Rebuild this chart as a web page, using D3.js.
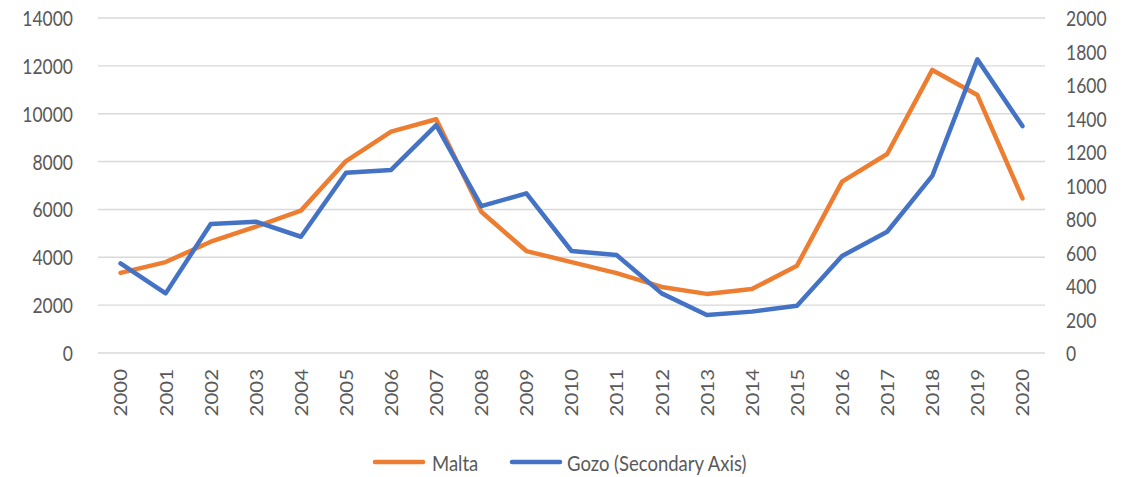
<!DOCTYPE html>
<html><head><meta charset="utf-8">
<script src="https://cdn.jsdelivr.net/npm/d3@7"></script>
<style>body{margin:0;background:#fff}svg{display:block}text{font-family:Lato,"Open Sans",sans-serif;fill:#595959}</style>
</head><body><svg id="c" width="1135" height="477"></svg>
<script>
const years = ["2000","2001","2002","2003","2004","2005","2006","2007","2008","2009","2010","2011","2012","2013","2014","2015","2016","2017","2018","2019","2020"];
const malta = [3350,3800,4650,5280,5950,8020,9250,9770,5900,4260,3800,3340,2760,2470,2670,3650,7160,8315,11830,10780,6460];
const gozo = [535,356,770,784,694,1076,1093,1361,877,953,609,585,356,227,247,282,579,724,1057,1753,1355];
const leftTicks = [0,2000,4000,6000,8000,10000,12000,14000];
const rightTicks = [0,200,400,600,800,1000,1200,1400,1600,1800,2000];
const seriesNames = ["Malta","Gozo (Secondary Axis)"];
const colors = ["#ED7D31","#4472C4"];

const svg = d3.select("#c");
const L = 98, R = 1045, T = 18, B = 353;
const SY = 1.17;
const x = d3.scaleBand().domain(years).range([L,R]);
const yL = d3.scaleLinear().domain([0,14000]).range([B,T]);
const yR = d3.scaleLinear().domain([0,2000]).range([B,T]);

// gridlines
svg.append("g").selectAll("line").data(leftTicks).join("line")
  .attr("x1",L).attr("x2",R).attr("y1",d=>yL(d)).attr("y2",d=>yL(d))
  .attr("stroke","#d9d9d9").attr("stroke-width",1.4);

// left labels
svg.append("g").selectAll("text").data(leftTicks).join("text")
  .attr("text-anchor","end").attr("dominant-baseline","central")
  .attr("transform",d=>`translate(73,${yL(d)}) scale(1,${SY})`)
  .style("font-size","17.5px").text(d=>d);
// right labels
svg.append("g").selectAll("text").data(rightTicks).join("text")
  .attr("text-anchor","start").attr("dominant-baseline","central")
  .attr("transform",d=>`translate(1066,${yR(d)}) scale(1,${SY})`)
  .style("font-size","17.5px").text(d=>d);
// x labels
svg.append("g").selectAll("text").data(years).join("text")
  .attr("text-anchor","end").attr("dominant-baseline","central")
  .attr("transform",d=>`translate(${x(d)+x.bandwidth()/2},369) scale(1,${SY}) rotate(-90)`)
  .style("font-size","17.5px").text(d=>d);

const cx = d => x(d)+x.bandwidth()/2;
const lineL = d3.line().x((d,i)=>cx(years[i])).y(d=>yL(d));
const lineR = d3.line().x((d,i)=>cx(years[i])).y(d=>yR(d));
svg.append("path").attr("d",lineL(malta)).attr("fill","none").attr("stroke",colors[0])
  .attr("stroke-width",4.5).attr("stroke-linejoin","round").attr("stroke-linecap","round");
svg.append("path").attr("d",lineR(gozo)).attr("fill","none").attr("stroke",colors[1])
  .attr("stroke-width",4.5).attr("stroke-linejoin","round").attr("stroke-linecap","round");

// legend
const leg = [{x:375,tx:432},{x:512,tx:567}];
leg.forEach((p,i)=>{
  svg.append("line").attr("x1",p.x).attr("x2",p.x+48).attr("y1",462).attr("y2",462)
    .attr("stroke",colors[i]).attr("stroke-width",4.5).attr("stroke-linecap","round");
  svg.append("text").attr("dominant-baseline","central")
    .attr("transform",`translate(${p.tx},462) scale(1,${SY})`)
    .style("font-size","18.5px").text(seriesNames[i]);
});
</script></body></html>
